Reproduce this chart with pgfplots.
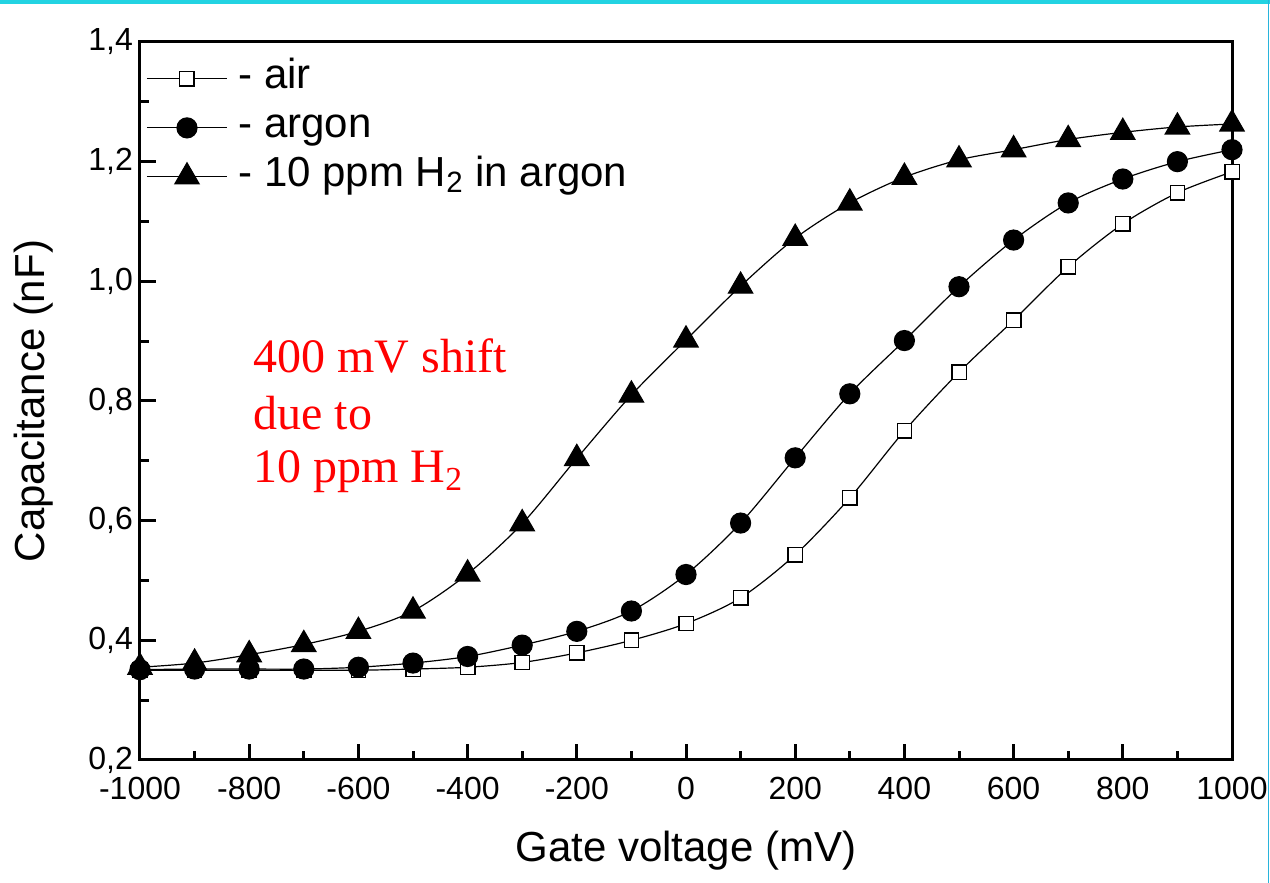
\documentclass[border=0pt]{standalone}
\usepackage{pgfplots}
\pgfplotsset{compat=1.18}
\usepackage{fontspec}
\setmainfont{Liberation Sans}
\newfontfamily\seriffont{Liberation Serif}

\definecolor{framecyan}{RGB}{34,211,226}
\definecolor{frameblue}{RGB}{40,180,220}

% C-V curves of the sensor: air, argon and 10 ppm H2 in argon
\pgfplotstableread{
V     C
-1000 0.350
-900  0.350
-800  0.350
-700  0.350
-600  0.350
-500  0.352
-400  0.355
-300  0.363
-200  0.379
-100  0.400
0     0.428
100   0.471
200   0.543
300   0.638
400   0.750
500   0.848
600   0.935
700   1.024
800   1.096
900   1.148
1000  1.183
}\airdata

\pgfplotstableread{
V     C
-1000 0.351
-900  0.352
-800  0.352
-700  0.352
-600  0.355
-500  0.362
-400  0.373
-300  0.392
-200  0.415
-100  0.449
0     0.510
100   0.596
200   0.705
300   0.812
400   0.901
500   0.991
600   1.069
700   1.131
800   1.171
900   1.200
1000  1.220
}\argondata

\pgfplotstableread{
V     C
-1000 0.355
-900  0.362
-800  0.376
-700  0.393
-600  0.415
-500  0.449
-400  0.511
-300  0.595
-200  0.704
-100  0.810
0     0.902
100   0.992
200   1.072
300   1.131
400   1.174
500   1.203
600   1.220
700   1.237
800   1.249
900   1.258
1000  1.263
}\hydrogendata

\begin{document}
\begin{tikzpicture}
\useasboundingbox (0pt,0pt) rectangle (635pt,441.5pt);
% page frame
\fill[framecyan] (0pt,439.5pt) rectangle (635pt,441.5pt);
\draw[frameblue, line width=0.8pt] (634.2pt,0pt) -- (634.2pt,441.5pt);

\begin{axis}[
  at={(70pt,61.5pt)}, anchor=south west,
  scale only axis, width=546pt, height=359pt,
  xmin=-1000, xmax=1000, ymin=0.2, ymax=1.4,
  axis line style={line width=1.5pt},
  xtick={-1000,-800,-600,-400,-200,0,200,400,600,800,1000},
  ytick={0.2,0.4,0.6,0.8,1.0,1.2,1.4},
  minor x tick num=1, minor y tick num=1,
  tick align=inside, tick pos=left,
  major tick length=8pt, minor tick length=4.5pt,
  every tick/.style={line width=1.5pt, black},
  ticklabel style={font=\fontsize{16}{19}\selectfont},
  /pgf/number format/assume math mode=true,
  /pgf/number format/1000 sep={},
  yticklabel style={/pgf/number format/.cd, fixed, fixed zerofill, precision=1, use comma},
  xticklabel style={yshift=-5pt},
  label style={font=\fontsize{21}{25}\selectfont},
  xlabel={Gate voltage (mV)},
  xlabel style={yshift=-9pt},
  ylabel={Capacitance (nF)},
  ylabel style={yshift=11pt},
  legend cell align=left,
  legend style={at={(axis description cs:0,1)}, anchor=north west,
    xshift=3pt, yshift=-6pt, draw=none, fill=none, inner sep=0pt,
    font=\fontsize{21}{24}\selectfont,
    nodes={text height=15.5pt, text depth=6pt, inner sep=1.5pt},
    column sep=4pt},
  legend image code/.code={%
    \draw[mark repeat=2,mark phase=2] plot coordinates {(0pt,0pt) (20pt,0pt) (40pt,0pt)};},
  every axis plot/.append style={black, line width=0.6pt, smooth},
]
\addplot[mark=square*, mark size=3.6pt, mark options={fill=white, draw=black, line width=0.7pt}]
  table[x=V, y=C] {\airdata};
\addlegendentry{- air}
\addplot[mark=*, mark size=5pt, mark options={fill=black, draw=black}]
  table[x=V, y=C] {\argondata};
\addlegendentry{- argon}
\addplot[mark=triangle*, mark size=7pt, mark options={fill=black, draw=black}]
  table[x=V, y=C] {\hydrogendata};
\addlegendentry{- 10 ppm H\textsubscript{2} in argon}

\begin{scope}[every node/.style={anchor=base west, inner sep=0pt, text=red,
    font=\seriffont\fontsize{24}{27}\selectfont}]
\node at (axis cs:-793,0.847) {400 mV shift};
\node at (axis cs:-793,0.752) {due to};
\node at (axis cs:-793,0.663) {10 ppm H\textsubscript{2}};
\end{scope}
\end{axis}
\end{tikzpicture}
\end{document}
